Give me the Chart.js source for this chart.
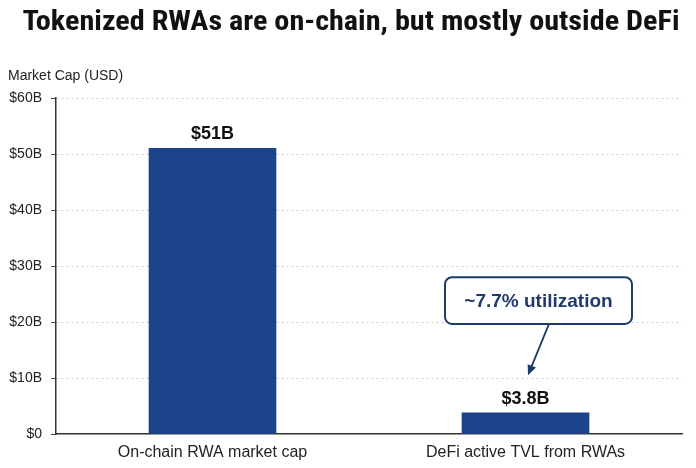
<!DOCTYPE html>
<html>
<head>
<meta charset="utf-8">
<script src="https://cdn.jsdelivr.net/npm/chart.js@4.4.1/dist/chart.umd.min.js"></script>
<style>
html,body{margin:0;padding:0;background:#fff;}
#wrap{width:696px;height:468px;position:relative;}
</style>
</head>
<body>
<div id="wrap"><canvas id="c"></canvas></div>
<script>
const titleText = "Tokenized RWAs are on-chain, but mostly outside DeFi";
const yAxisTitle = "Market Cap (USD)";
const categories = ["On-chain RWA market cap", "DeFi active TVL from RWAs"];
const values = [51, 3.8];
const valueLabels = ["$51B", "$3.8B"];
const yTicks = [0, 10, 20, 30, 40, 50, 60];
const calloutText = "~7.7% utilization";
const calloutIndex = 1;

const NAVY = "#1b448b";
const DARK = "#1f3a6b";
const FONT = "'Liberation Sans', Arial, sans-serif";

const drawPlugin = {
  id: "extras",
  afterDraw(chart) {
    const ctx = chart.ctx;
    ctx.save();
    // title
    ctx.font = "bold 28px 'Liberation Sans Narrow', 'Roboto Condensed', Arial, sans-serif";
    ctx.fillStyle = "#111";
    ctx.textAlign = "center";
    ctx.textBaseline = "alphabetic";
    const w = ctx.measureText(titleText).width;
    const target = 657;
    ctx.save();
    ctx.translate(351, 30);
    ctx.scale(target / w, 1);
    ctx.fillText(titleText, 0, 0);
    ctx.restore();
    ctx.restore();
  },
  afterDatasetsDraw(chart) {
    const ctx = chart.ctx;
    const meta = chart.getDatasetMeta(0);
    ctx.save();
    ctx.font = "bold 18px " + FONT;
    ctx.fillStyle = "#111";
    ctx.textAlign = "center";
    ctx.textBaseline = "alphabetic";
    meta.data.forEach((bar, i) => {
      ctx.fillText(valueLabels[i], bar.x, bar.y - 9);
    });
    // callout
    const bar = meta.data[calloutIndex];
    const ys = chart.scales.y;
    const boxTop = ys.getPixelForValue(28.0);
    const boxBot = ys.getPixelForValue(19.65);
    const bx = bar.x + 13;
    const bw = 187;
    const bl = bx - bw / 2;
    ctx.beginPath();
    ctx.roundRect(bl, boxTop, bw, boxBot - boxTop, 7);
    ctx.fillStyle = "#fff";
    ctx.fill();
    ctx.lineWidth = 2;
    ctx.strokeStyle = DARK;
    ctx.stroke();
    ctx.font = "bold 19px " + FONT;
    ctx.fillStyle = DARK;
    ctx.textBaseline = "middle";
    ctx.fillText(calloutText, bx, (boxTop + boxBot) / 2 + 1);
    // arrow
    const x1 = bar.x + 23.5, y1 = boxBot;
    const x2 = bar.x + 2.5, y2 = ys.getPixelForValue(10.5);
    const ang = Math.atan2(y2 - y1, x2 - x1);
    const hl = 11, hw = 0.42;
    ctx.beginPath();
    ctx.moveTo(x1, y1);
    ctx.lineTo(x2 - 6 * Math.cos(ang), y2 - 6 * Math.sin(ang));
    ctx.lineWidth = 1.8;
    ctx.stroke();
    ctx.beginPath();
    ctx.moveTo(x2, y2);
    ctx.lineTo(x2 - hl * Math.cos(ang - hw), y2 - hl * Math.sin(ang - hw));
    ctx.lineTo(x2 - hl * Math.cos(ang + hw), y2 - hl * Math.sin(ang + hw));
    ctx.closePath();
    ctx.fill();
    ctx.restore();
  }
};

new Chart(document.getElementById("c"), {
  type: "bar",
  data: {
    labels: categories,
    datasets: [{
      data: values,
      backgroundColor: NAVY,
      borderWidth: 0,
      barThickness: 127
    }]
  },
  options: {
    responsive: true,
    maintainAspectRatio: false,
    animation: false,
    devicePixelRatio: 1,
    layout: { padding: { left: 8, right: 14, top: 67.6, bottom: 0 } },
    plugins: {
      legend: { display: false },
      tooltip: { enabled: false },
      title: { display: false },
      subtitle: {
        display: true,
        text: yAxisTitle,
        align: "start",
        font: { family: FONT, size: 14 },
        color: "#222",
        padding: { top: 0, bottom: 13.6 }
      }
    },
    scales: {
      x: {
        afterFit(axis) { axis.height = 34; },
        grid: { display: false, drawTicks: false, tickLength: 0 },
        border: { display: true, color: "#333", width: 1.5 },
        ticks: { color: "#222", font: { family: FONT, size: 16 }, padding: 9 }
      },
      y: {
        min: 0, max: 60,
        afterBuildTicks(axis) { axis.ticks = yTicks.map(v => ({ value: v })); },
        afterFit(axis) { axis.width = 48; },
        grid: {
          color: (c) => c.tick && c.tick.value === 0 ? "rgba(0,0,0,0)" : "#cfcfcf",
          lineWidth: 1,
          drawTicks: true,
          tickLength: 5,
          tickColor: "#444"
        },
        border: { display: true, color: "#333", width: 1.5, dash: [2, 3] },
        ticks: {
          color: "#222",
          font: { family: FONT, size: 14 },
          padding: 9,
          callback: (v) => v === 0 ? "$0" : "$" + v + "B"
        }
      }
    }
  },
  plugins: [drawPlugin]
});
</script>
</body>
</html>
